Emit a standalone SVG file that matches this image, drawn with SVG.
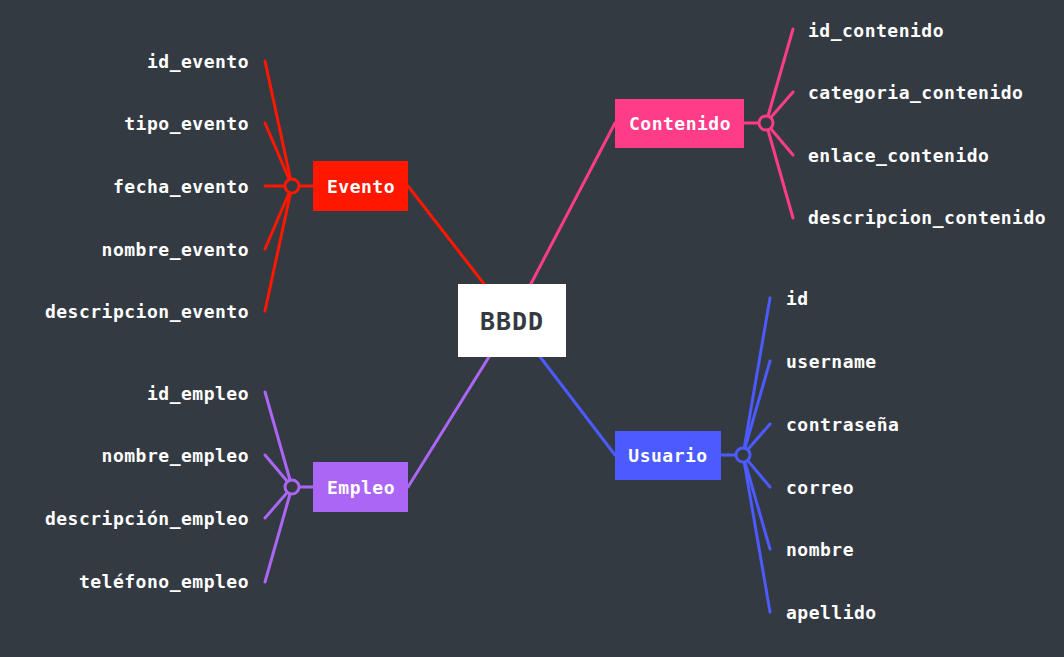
<svg xmlns="http://www.w3.org/2000/svg" width="1064" height="657" viewBox="0 0 1064 657">
<style>
.t{font-family:"DejaVu Sans Mono","Liberation Mono",monospace;font-size:18px;font-weight:bold;fill:#ffffff;letter-spacing:0.5px;dominant-baseline:central}
.r{text-anchor:end}
.m{text-anchor:middle}
.ln{fill:none;stroke-width:3;stroke-linecap:round}
.hub{fill:#343a42;stroke-width:3}
</style>
<rect width="1064" height="657" fill="#343a42"/>
<g id="connectors">
<line class="ln" stroke="#ff1700" x1="408" y1="186" x2="512" y2="320"/>
<line class="ln" stroke="#ff3c87" x1="615" y1="123" x2="512" y2="320"/>
<line class="ln" stroke="#4b5bff" x1="615" y1="455" x2="512" y2="320"/>
<line class="ln" stroke="#ab66f5" x1="408" y1="487" x2="512" y2="320"/>
</g>
<g id="bbdd">
<rect x="458" y="284" width="108" height="73" fill="#ffffff"/>
<text x="512" y="321" class="t m" style="fill:#343a42;font-size:25px;letter-spacing:1px">BBDD</text>
</g>
<g id="evento">
<g stroke="#ff1700" class="ln">
<line x1="292" y1="186" x2="265" y2="61"/>
<line x1="292" y1="186" x2="265" y2="123"/>
<line x1="292" y1="186" x2="265" y2="186"/>
<line x1="292" y1="186" x2="265" y2="249"/>
<line x1="292" y1="186" x2="265" y2="311"/>
<line x1="292" y1="186" x2="313" y2="186"/>
</g>
<circle class="hub" stroke="#ff1700" cx="292" cy="186" r="7"/>
<rect x="313" y="161" width="95" height="50" fill="#ff1700"/>
<text x="361" y="186" class="t m">Evento</text>
<text x="249" y="61" class="t r">id_evento</text>
<text x="249" y="123" class="t r">tipo_evento</text>
<text x="249" y="186" class="t r">fecha_evento</text>
<text x="249" y="249" class="t r">nombre_evento</text>
<text x="249" y="311" class="t r">descripcion_evento</text>
</g>
<g id="contenido">
<g stroke="#ff3c87" class="ln">
<line x1="766" y1="123" x2="793" y2="29"/>
<line x1="766" y1="123" x2="793" y2="92"/>
<line x1="766" y1="123" x2="793" y2="155"/>
<line x1="766" y1="123" x2="793" y2="218"/>
<line x1="766" y1="123" x2="744" y2="123"/>
</g>
<circle class="hub" stroke="#ff3c87" cx="766" cy="123" r="7"/>
<rect x="615" y="99" width="129" height="49" fill="#ff3c87"/>
<text x="680" y="123" class="t m">Contenido</text>
<text x="808" y="30" class="t">id_contenido</text>
<text x="808" y="92" class="t">categoria_contenido</text>
<text x="808" y="155" class="t">enlace_contenido</text>
<text x="808" y="217" class="t">descripcion_contenido</text>
</g>
<g id="usuario">
<g stroke="#4b5bff" class="ln">
<line x1="743" y1="455" x2="770" y2="298"/>
<line x1="743" y1="455" x2="770" y2="361"/>
<line x1="743" y1="455" x2="770" y2="424"/>
<line x1="743" y1="455" x2="770" y2="487"/>
<line x1="743" y1="455" x2="770" y2="549"/>
<line x1="743" y1="455" x2="770" y2="612"/>
<line x1="743" y1="455" x2="721" y2="455"/>
</g>
<circle class="hub" stroke="#4b5bff" cx="743" cy="455" r="7"/>
<rect x="615" y="431" width="106" height="49" fill="#4b5bff"/>
<text x="668" y="455" class="t m">Usuario</text>
<text x="786" y="298" class="t">id</text>
<text x="786" y="361" class="t">username</text>
<text x="786" y="424" class="t">contraseña</text>
<text x="786" y="487" class="t">correo</text>
<text x="786" y="549" class="t">nombre</text>
<text x="786" y="612" class="t">apellido</text>
</g>
<g id="empleo">
<g stroke="#ab66f5" class="ln">
<line x1="292" y1="487" x2="265" y2="392"/>
<line x1="292" y1="487" x2="265" y2="455"/>
<line x1="292" y1="487" x2="265" y2="518"/>
<line x1="292" y1="487" x2="265" y2="582"/>
<line x1="292" y1="487" x2="313" y2="487"/>
</g>
<circle class="hub" stroke="#ab66f5" cx="292" cy="487" r="7"/>
<rect x="313" y="462" width="95" height="50" fill="#ab66f5"/>
<text x="361" y="487" class="t m">Empleo</text>
<text x="249" y="393" class="t r">id_empleo</text>
<text x="249" y="455" class="t r">nombre_empleo</text>
<text x="249" y="518" class="t r">descripción_empleo</text>
<text x="249" y="581" class="t r">teléfono_empleo</text>
</g>
</svg>
